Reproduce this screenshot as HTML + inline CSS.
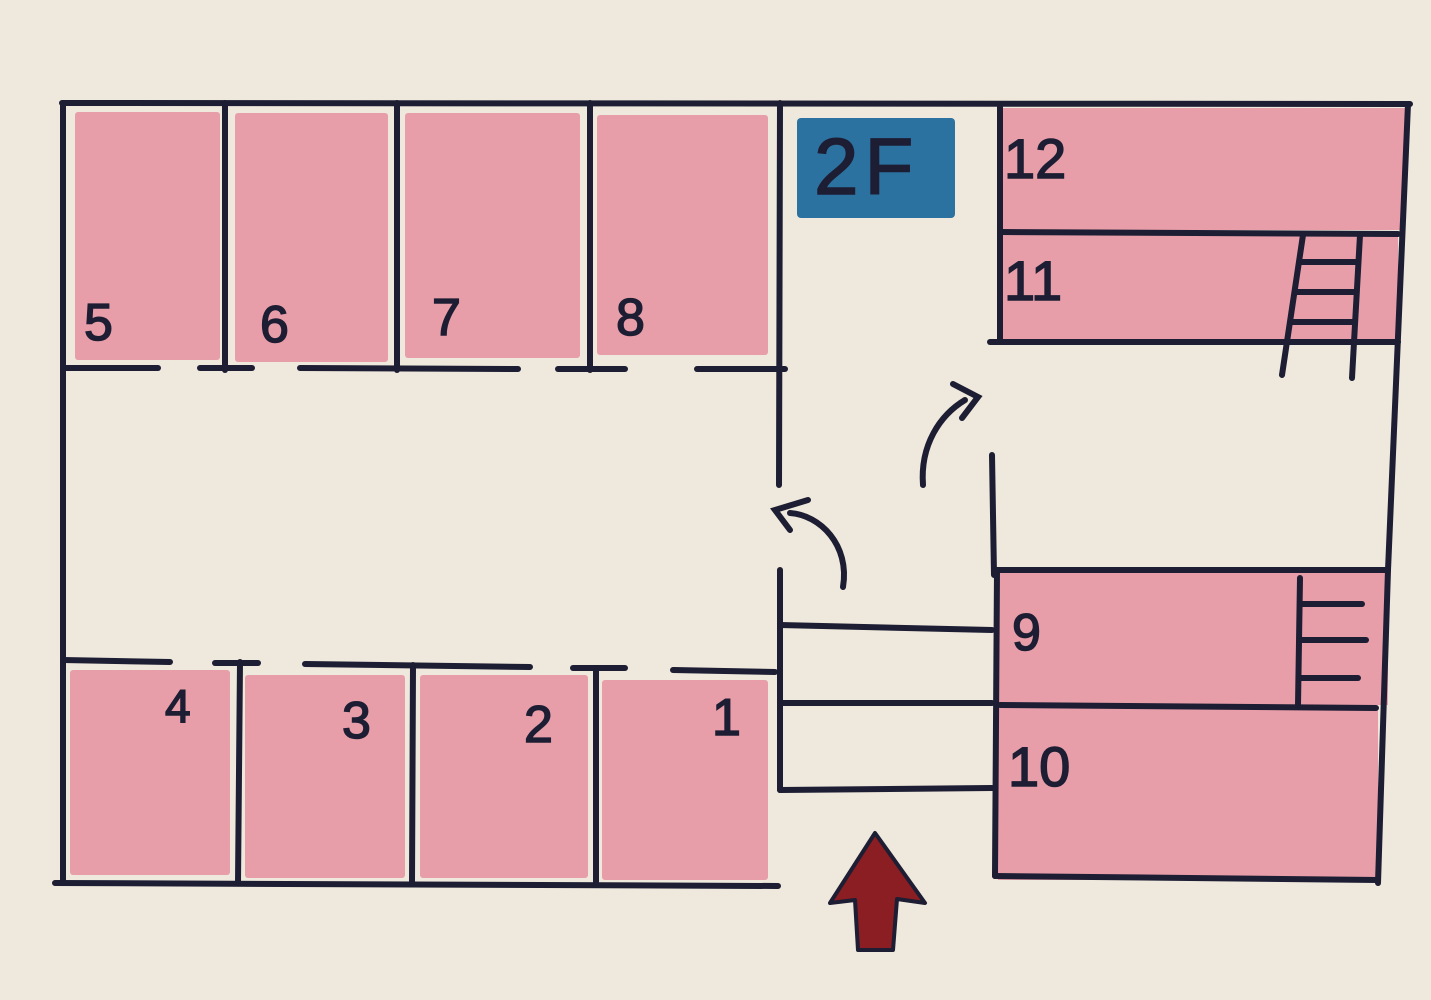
<!DOCTYPE html>
<html><head><meta charset="utf-8"><style>
html,body{margin:0;padding:0;background:#efe8dc;}
svg{display:block}
text{font-family:"Liberation Sans",sans-serif;fill:#1d1d33;font-size:52px;stroke:#1d1d33;stroke-width:1.5px;}
</style></head><body>
<svg width="1431" height="1000" viewBox="0 0 1431 1000" xmlns="http://www.w3.org/2000/svg">
<rect width="1431" height="1000" fill="#efe8dc"/>
<g fill="#e79ea9">
<rect x="75" y="112" width="145" height="248" rx="3"/>
<rect x="235" y="113" width="153" height="249" rx="3"/>
<rect x="405" y="113" width="175" height="245" rx="3"/>
<rect x="597" y="115" width="171" height="240" rx="3"/>
<rect x="70" y="670" width="160" height="205" rx="3"/>
<rect x="245" y="675" width="160" height="203" rx="3"/>
<rect x="420" y="675" width="168" height="203" rx="3"/>
<rect x="602" y="680" width="166" height="200" rx="3"/>
<rect x="1003" y="108" width="402" height="122"/>
<rect x="1003" y="235" width="395" height="107"/>
<rect x="998" y="572" width="390" height="133"/>
<rect x="998" y="708" width="380" height="172"/>
</g>
<rect x="797" y="118" width="158" height="100" rx="4" fill="#2b72a0"/>
<g stroke="#1d1d33" stroke-width="6" stroke-linecap="round" fill="none">
<line x1="62" y1="103" x2="1410" y2="104"/>
<line x1="63" y1="103" x2="63" y2="883"/>
<line x1="55" y1="883" x2="778" y2="886"/>
<polyline points="1408,104 1388,570 1378,883"/>
<line x1="225" y1="103" x2="225" y2="370"/>
<line x1="397" y1="103" x2="397" y2="370"/>
<line x1="590" y1="103" x2="590" y2="370"/>
<line x1="780" y1="103" x2="779" y2="485"/>
<line x1="780" y1="570" x2="780" y2="790"/>
<line x1="63" y1="368" x2="158" y2="368"/>
<line x1="200" y1="368" x2="252" y2="368"/>
<line x1="300" y1="368" x2="518" y2="369"/>
<line x1="558" y1="369" x2="625" y2="369"/>
<line x1="697" y1="369" x2="785" y2="369"/>
<line x1="63" y1="660" x2="170" y2="662"/>
<line x1="215" y1="663" x2="258" y2="663"/>
<line x1="305" y1="664" x2="530" y2="667"/>
<line x1="573" y1="668" x2="625" y2="668"/>
<line x1="673" y1="670" x2="775" y2="672"/>
<line x1="240" y1="662" x2="238" y2="883"/>
<line x1="413" y1="665" x2="412" y2="883"/>
<line x1="596" y1="668" x2="596" y2="885"/>
<line x1="780" y1="625" x2="992" y2="630"/>
<line x1="780" y1="703" x2="992" y2="703"/>
<line x1="780" y1="790" x2="992" y2="788"/>
<line x1="1000" y1="106" x2="1000" y2="340"/>
<line x1="1000" y1="232" x2="1398" y2="234"/>
<line x1="990" y1="342" x2="1398" y2="342"/>
<line x1="1303" y1="235" x2="1282" y2="375"/>
<line x1="1360" y1="235" x2="1352" y2="378"/>
<line x1="1300" y1="262" x2="1358" y2="262"/>
<line x1="1296" y1="292" x2="1356" y2="292"/>
<line x1="1292" y1="322" x2="1354" y2="322"/>
<line x1="992" y1="455" x2="994" y2="575"/>
<line x1="995" y1="570" x2="1388" y2="570"/>
<line x1="997" y1="570" x2="995" y2="876"/>
<line x1="1000" y1="705" x2="1376" y2="708"/>
<line x1="995" y1="876" x2="1378" y2="880"/>
<line x1="1300" y1="578" x2="1298" y2="705"/>
<line x1="1300" y1="604" x2="1362" y2="604"/>
<line x1="1300" y1="640" x2="1366" y2="640"/>
<line x1="1300" y1="678" x2="1358" y2="678"/>
<path d="M843,587 C850,545 820,515 790,513"/>
<polyline points="808,500 775,510 790,530"/>
<path d="M923,485 C920,445 940,415 965,400"/>
<polyline points="953,384 978,397 962,418"/>
</g>
<path d="M875,833 L925,903 L897,899 L893,950 L858,950 L855,900 L830,903 Z" fill="#8b1e22" stroke="#1d1d33" stroke-width="4" stroke-linejoin="round"/>
<text x="814" y="194" style="font-size:80px;letter-spacing:6px">2F</text>
<text x="84" y="340">5</text>
<text x="260" y="342">6</text>
<text x="432" y="335">7</text>
<text x="616" y="335">8</text>
<text x="1004" y="178" style="font-size:56px">12</text>
<text x="1004" y="300" style="font-size:56px">11</text>
<text x="1012" y="650">9</text>
<text x="1008" y="786" style="font-size:56px">10</text>
<text x="165" y="722" style="font-size:46px">4</text>
<text x="342" y="738">3</text>
<text x="524" y="742">2</text>
<text x="712" y="735">1</text>
</svg>
</body></html>
